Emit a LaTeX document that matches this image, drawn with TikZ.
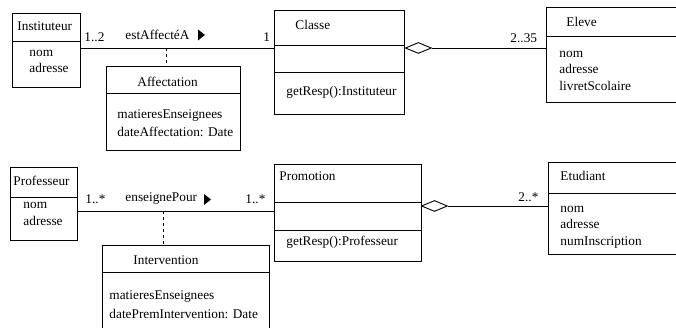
\documentclass[tikz,border=0pt]{standalone}
\usepackage{fontspec}
\setmainfont{Liberation Serif}
\usetikzlibrary{shapes.geometric}
\begin{document}
\begin{tikzpicture}[x=1pt,y=-1pt,line width=0.9pt,
  box/.style={draw,rectangle,anchor=north west,inner sep=0pt},
  txt/.style={anchor=base west,inner sep=0pt,font=\fontsize{13.3}{16}\selectfont},
  agg/.style={draw,diamond,anchor=west,inner sep=0pt,aspect=2.4,minimum width=26pt,minimum height=11pt,fill=white},
  tri/.style={fill=black,draw=none}]
\useasboundingbox (0,0) rectangle (676,328);
% ---------- top ----------
\node[box,minimum width=68pt,minimum height=74pt] (inst) at (12,13) {};
\draw (inst.west |- 0,41) -- (inst.east |- 0,41);
\node[txt] (instT) at (17,31) {Instituteur};
\node[txt] (instA) at (29,57) {nom};
\node[txt] (instB) at (29,73) {adresse};

\node[box,minimum width=134pt,minimum height=84pt] (aff) at (106,66) {};
\draw (aff.west |- 0,93) -- (aff.east |- 0,93);
\node[txt] (affT) at (137,87) {Affectation};
\node[txt] (affA) at (117,119) {matieresEnseignees};
\node[txt] (affB) at (117,137) {dateAffectation: Date};

\node[box,minimum width=130pt,minimum height=104pt] (cla) at (274,10) {};
\draw (cla.west |- 0,45) -- (cla.east |- 0,45);
\draw (cla.west |- 0,72) -- (cla.east |- 0,72);
\node[txt] (claT) at (295,30) {Classe};
\node[txt] (claM) at (286,96) {getResp():Instituteur};

\node[box,minimum width=134pt,minimum height=95pt] (ele) at (546,7) {};
\draw (ele.west |- 0,36) -- (ele.east |- 0,36);
\node[txt] (eleT) at (566,27) {Eleve};
\node[txt] (eleA) at (559,58) {nom};
\node[txt] (eleB) at (559,74) {adresse};
\node[txt] (eleC) at (559,91) {livretScolaire};

\coordinate (a1) at (166,48);
\draw (inst.east |- a1) -- (cla.west |- a1);
\draw[dashed,dash pattern=on 3pt off 3pt] (a1) -- (a1 |- aff.north);
\node[txt] (m1) at (84,42) {1..2};
\node[txt] (n1) at (125,40) {estAffectéA};
\fill[tri] (198,29.5) -- (205,35) -- (198,40.5) -- cycle;
\node[txt] (m2) at (263,42) {1};

\node[agg] (d1) at (cla.east |- a1) {};
\draw (d1.east) -- (ele.west |- d1.east);
\node[txt] (m3) at (510,43) {2..35};

% ---------- bottom ----------
\node[box,minimum width=67pt,minimum height=73pt] (pro) at (10,167) {};
\draw (pro.west |- 0,197) -- (pro.east |- 0,197);
\node[txt] (proT) at (13,186) {Professeur};
\node[txt] (proA) at (23,209) {nom};
\node[txt] (proB) at (23,226) {adresse};

\node[box,minimum width=167pt,minimum height=90pt] (int) at (102,245) {};
\draw (int.west |- 0,272) -- (int.east |- 0,272);
\node[txt] (intT) at (133,265) {Intervention};
\node[txt] (intA) at (109,299) {matieresEnseignees};
\node[txt] (intB) at (109,318) {datePremIntervention: Date};

\node[box,minimum width=147pt,minimum height=97pt] (prm) at (274,164) {};
\draw (prm.west |- 0,202) -- (prm.east |- 0,202);
\draw (prm.west |- 0,230) -- (prm.east |- 0,230);
\node[txt] (prmT) at (279,181) {Promotion};
\node[txt] (prmM) at (286,246) {getResp():Professeur};

\node[box,minimum width=132pt,minimum height=92pt] (etu) at (548,162) {};
\draw (etu.west |- 0,193) -- (etu.east |- 0,193);
\node[txt] (etuT) at (560,181) {Etudiant};
\node[txt] (etuA) at (560,213) {nom};
\node[txt] (etuB) at (560,229) {adresse};
\node[txt] (etuC) at (560,246) {numInscription};

\coordinate (a2) at (163,211);
\draw (pro.east |- a2) -- (prm.west |- a2);
\draw[dashed,dash pattern=on 3pt off 3pt] (a2) -- (a2 |- int.north);
\node[txt] (m4) at (85,204) {1..*};
\node[txt] (n2) at (125,202) {enseignePour};
\fill[tri] (204,194) -- (211,199.5) -- (204,205) -- cycle;
\node[txt] (m5) at (245,204) {1..*};

\coordinate (a3) at (421,206);
\node[agg] (d2) at (a3) {};
\draw (d2.east) -- (etu.west |- d2.east);
\node[txt] (m6) at (518,202) {2..*};
\end{tikzpicture}
\end{document}
